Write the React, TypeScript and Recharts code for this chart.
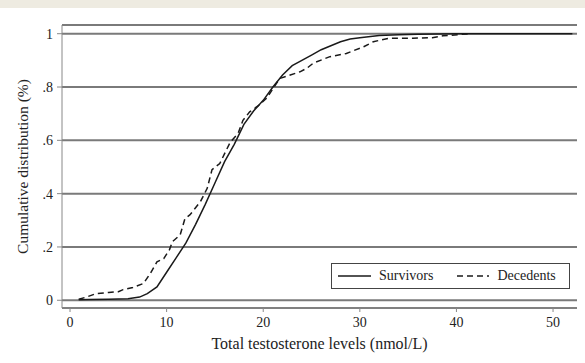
import React from 'react';
import { LineChart, Line, XAxis, YAxis, CartesianGrid } from 'recharts';

const seriesNames = ['Survivors', 'Decedents'];
const xTitle = 'Total testosterone levels (nmol/L)';
const yTitle = 'Cumulative distribution (%)';

const survivorsX = [0.9, 2, 4, 6, 7.2, 8, 9, 10, 11, 12, 13, 14, 15, 16, 17, 18, 19, 20, 21, 22, 23, 24, 25, 26, 27, 28, 29, 30, 32, 34, 36, 40, 45, 52];
const survivorsY = [0.002, 0.003, 0.004, 0.006, 0.012, 0.025, 0.05, 0.105, 0.16, 0.215, 0.285, 0.36, 0.44, 0.52, 0.585, 0.66, 0.71, 0.75, 0.8, 0.845, 0.88, 0.9, 0.92, 0.94, 0.955, 0.97, 0.98, 0.985, 0.993, 0.996, 0.998, 1, 1, 1];

const decedentsX = [0.9, 1.7, 2.7, 4, 5, 5.5, 6.5, 7.6, 8.3, 9, 9.7, 10.3, 10.6, 11.4, 11.9, 12.4, 12.8, 13.5, 14.2, 14.7, 15.5, 16, 16.6, 17.4, 17.9, 18.6, 19.5, 20.4, 21.7, 22.8, 23.8, 24.5, 25.2, 26.9, 28.6, 30.4, 31.4, 33, 35.5, 37.5, 38.6, 41.4];
const decedentsY = [0.004, 0.012, 0.025, 0.029, 0.032, 0.04, 0.048, 0.063, 0.1, 0.144, 0.156, 0.19, 0.22, 0.245, 0.307, 0.32, 0.338, 0.37, 0.42, 0.49, 0.513, 0.55, 0.594, 0.626, 0.675, 0.707, 0.73, 0.76, 0.832, 0.845, 0.857, 0.87, 0.89, 0.914, 0.926, 0.951, 0.97, 0.983, 0.983, 0.985, 0.992, 1.0];

const xTicks = [0, 10, 20, 30, 40, 50];
const yTicks = [0, 0.2, 0.4, 0.6, 0.8, 1];
const yTickLabels = ['0', '.2', '.4', '.6', '.8', '1'];

const survivors = survivorsX.map((x, i) => ({ x, y: survivorsY[i] }));
const decedents = decedentsX.map((x, i) => ({ x, y: decedentsY[i] }));

const FONT = '"Liberation Serif", "Times New Roman", serif';
const tickStyle = { fontFamily: FONT, fontSize: 14, fill: '#222' };

const XTitle = (props: any) => {
  const vb = props.viewBox || {};
  return (
    <text x={vb.x + vb.width / 2} y={349} textAnchor="middle" fontFamily={FONT} fontSize={16} fill="#222">
      {xTitle}
    </text>
  );
};

const YTitle = (props: any) => {
  const vb = props.viewBox || {};
  const cy = vb.y + vb.height / 2;
  return (
    <text x={22} y={cy} transform={`rotate(-90, 22, ${cy})`} textAnchor="middle" dominantBaseline="central" fontFamily={FONT} fontSize={15.5} fill="#222">
      {yTitle}
    </text>
  );
};

export default function App() {
  return (
    <div style={{ position: 'fixed', left: 0, top: 0, width: 585, height: 363, background: '#fff', overflow: 'hidden' }}>
      <div style={{ position: 'absolute', left: 0, top: 0, width: 585, height: 8, background: '#EEEBE1' }} />
      <LineChart width={585} height={363} margin={{ top: 25, right: 8, left: 0, bottom: 0 }}>
        <CartesianGrid vertical={false} stroke="#7a7a7a" strokeWidth={2} />
        <XAxis
          dataKey="x"
          type="number"
          domain={[-0.83, 52.48]}
          allowDataOverflow
          ticks={xTicks}
          height={55}
          tick={tickStyle}
          tickSize={4}
          tickMargin={5}
          stroke="#888"
          axisLine={{ stroke: '#888', strokeWidth: 1 }}
          tickLine={{ stroke: '#888' }}
          label={<XTitle />}
        />
        <YAxis
          type="number"
          domain={[-0.029, 1.0327]}
          allowDataOverflow
          ticks={yTicks}
          width={62}
          tick={tickStyle}
          tickSize={5}
          tickMargin={4}
          tickFormatter={(v: number) => yTickLabels[yTicks.indexOf(v)] ?? String(v)}
          axisLine={{ stroke: '#888', strokeWidth: 1 }}
          tickLine={{ stroke: '#888' }}
          label={<YTitle />}
        />
        <Line data={survivors} dataKey="y" name={seriesNames[0]} type="linear" stroke="#1a1a1a" strokeWidth={1.5} dot={false} isAnimationActive={false} />
        <Line data={decedents} dataKey="y" name={seriesNames[1]} type="linear" stroke="#1a1a1a" strokeWidth={1.5} strokeDasharray="6 4" dot={false} isAnimationActive={false} />
      </LineChart>
      <div style={{ position: 'absolute', left: 331, top: 263, width: 237, height: 24, border: '1px solid #444', background: '#fff', fontFamily: FONT, fontSize: 14, color: '#222', display: 'flex', alignItems: 'center', whiteSpace: 'nowrap' }}>
        <svg width={33} height={4} style={{ marginLeft: 6 }}>
          <line x1={0} y1={2} x2={33} y2={2} stroke="#1a1a1a" strokeWidth={1.5} />
        </svg>
        <span style={{ marginLeft: 8 }}>{seriesNames[0]}</span>
        <svg width={32} height={4} style={{ marginLeft: 24 }}>
          <line x1={0} y1={2} x2={32} y2={2} stroke="#1a1a1a" strokeWidth={1.5} strokeDasharray="6 4" />
        </svg>
        <span style={{ marginLeft: 8 }}>{seriesNames[1]}</span>
      </div>
    </div>
  );
}
